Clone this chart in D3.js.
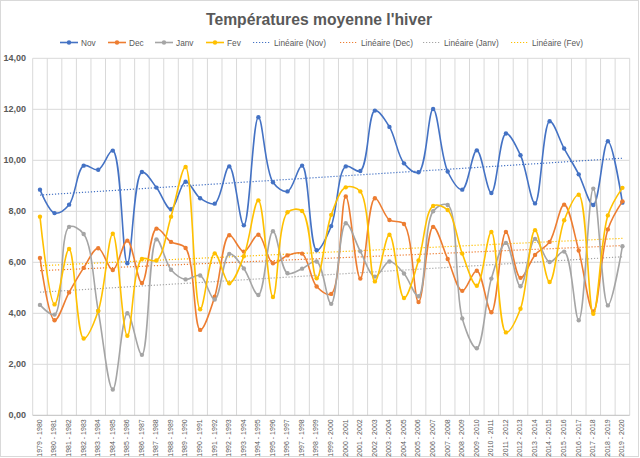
<!DOCTYPE html>
<html lang="fr">
<head>
  <meta charset="UTF-8">
  <title>Températures moyenne l'hiver</title>
  <script src="https://d3js.org/d3.v7.min.js"></script>
  <style>
    body { margin: 0; background: #fff; }
    svg { display: block; font-family: "Liberation Sans", Arial, sans-serif; }
    .grid line { stroke: #d9d9d9; stroke-width: 1; }
    .tick-y { fill: #595959; font-size: 9px; font-weight: bold; text-anchor: end; dominant-baseline: middle; }
    .tick-x { fill: #595959; font-size: 7px; text-anchor: end; dominant-baseline: middle; }
    .legend text { fill: #595959; font-size: 9.5px; dominant-baseline: middle; }
  </style>
</head>
<body>
  <svg id="chart" width="640" height="458"></svg>

  <script>
    const seasons = ["1979 - 1980", "1980 - 1981", "1981 - 1982", "1982 - 1983", "1983 - 1984",
      "1984 - 1985", "1985 - 1986", "1986 - 1987", "1987 - 1988", "1988 - 1989", "1989 - 1990",
      "1990 - 1991", "1991 - 1992", "1992 - 1993", "1993 - 1994", "1994 - 1995", "1995 - 1996",
      "1996 - 1997", "1997 - 1998", "1998 - 1999", "1999 - 2000", "2000 - 2001", "2001 - 2002",
      "2002 - 2003", "2003 - 2004", "2004 - 2005", "2005 - 2006", "2006 - 2007", "2007 - 2008",
      "2008 - 2009", "2009 - 2010", "2010 - 2011", "2011 - 2012", "2012 - 2013", "2013 - 2014",
      "2014 - 2015", "2015 - 2016", "2016 - 2017", "2017 - 2018", "2018 - 2019", "2019 - 2020"];

    const nov = [8.85, 7.93, 8.26, 9.79, 9.63, 10.38, 5.96, 9.54, 8.93, 8.08,
      9.16, 8.51, 8.30, 9.76, 7.45, 11.69, 9.14, 8.78, 9.79, 6.47,
      7.42, 9.76, 9.58, 11.95, 11.31, 9.88, 9.53, 12.01, 9.56, 8.85,
      10.39, 8.72, 11.05, 10.20, 8.31, 11.53, 10.46, 9.45, 8.25, 10.75, 8.34];
    const dec = [6.17, 3.73, 4.82, 5.78, 6.55, 5.70, 6.85, 5.19, 7.32, 6.80,
      6.56, 3.35, 4.65, 7.06, 6.42, 7.08, 5.96, 6.27, 6.34, 5.05,
      4.76, 8.58, 5.36, 8.51, 7.66, 7.50, 4.44, 7.39, 6.13, 4.88,
      5.67, 4.04, 7.19, 5.39, 6.29, 6.80, 8.26, 6.46, 4.07, 7.29, 8.39];
    const janv = [4.33, 3.95, 7.39, 7.11, 4.10, 1.01, 4.00, 2.37, 6.90, 5.71,
      5.33, 5.48, 4.54, 6.33, 5.76, 4.72, 7.22, 5.57, 5.75, 6.03,
      4.37, 7.53, 6.43, 5.44, 6.03, 5.56, 4.67, 8.00, 8.25, 3.80,
      2.63, 5.36, 6.76, 5.06, 6.92, 6.01, 6.42, 3.73, 8.89, 4.31, 6.63];
    const fev = [7.79, 4.35, 6.52, 3.01, 4.09, 7.12, 3.12, 6.13, 6.07, 7.79,
      9.74, 4.16, 6.35, 5.18, 6.24, 8.43, 4.64, 7.96, 8.01, 5.37,
      7.86, 8.94, 8.78, 5.25, 7.08, 4.60, 6.07, 8.21, 8.05, 6.34,
      5.08, 7.19, 3.25, 4.18, 7.26, 5.23, 7.65, 8.65, 3.98, 7.84, 8.92];

    const seriesNames = ["Nov", "Dec", "Janv", "Fev"];
    const seriesColors = ["#4472C4", "#ED7D31", "#A5A5A5", "#FFC000"];
    const yTicks = [0, 2, 4, 6, 8, 10, 12, 14];

    const series = [nov, dec, janv, fev].map((values, k) => ({
      name: seriesNames[k], color: seriesColors[k], values
    }));

    const svg = d3.select("#chart");
    const plotLeft = 32.7, plotRight = 629.7, plotTop = 58.3, plotBottom = 415.3;

    const x = d3.scaleBand().domain(seasons).range([plotLeft, plotRight]).padding(0);
    const cx = d => x(d) + x.bandwidth() / 2;
    const y = d3.scaleLinear().domain([0, 14]).range([plotBottom, plotTop]);

    // chart border
    svg.append("rect")
      .attr("x", 0.5).attr("y", 0.5).attr("width", 638).attr("height", 456)
      .attr("fill", "#fff").attr("stroke", "#d9d9d9");

    // title (squeezed a bit, Calibri is narrower than what we have)
    svg.append("text")
      .attr("x", 319).attr("y", 25)
      .attr("text-anchor", "middle")
      .attr("fill", "#595959")
      .attr("textLength", 226).attr("lengthAdjust", "spacingAndGlyphs")
      .style("font-size", "17px").style("font-weight", "bold")
      .text("Températures moyenne l'hiver");

    // gridlines
    const grid = svg.append("g").attr("class", "grid");
    grid.selectAll(".h").data(yTicks.filter(t => t > 0)).enter().append("line")
      .attr("x1", plotLeft).attr("x2", plotRight)
      .attr("y1", d => y(d)).attr("y2", d => y(d));
    grid.selectAll(".v").data(seasons.concat([null])).enter().append("line")
      .attr("x1", (d, i) => plotLeft + i * x.bandwidth())
      .attr("x2", (d, i) => plotLeft + i * x.bandwidth())
      .attr("y1", plotTop).attr("y2", plotBottom);
    svg.append("line")
      .attr("x1", plotLeft).attr("x2", plotRight).attr("y1", plotBottom).attr("y2", plotBottom)
      .attr("stroke", "#bfbfbf");

    // y labels
    svg.selectAll(".tick-y").data(yTicks).enter().append("text")
      .attr("class", "tick-y")
      .attr("x", 26).attr("y", d => y(d))
      .text(d => d3.format(".2f")(d).replace(".", ","));

    // x labels
    svg.selectAll(".tick-x").data(seasons).enter().append("text")
      .attr("class", "tick-x")
      .attr("transform", d => `translate(${cx(d)},${plotBottom + 4}) rotate(-90)`)
      .text(d => d);

    // trend lines (linear least squares)
    function trend(values) {
      const n = values.length;
      const xs = d3.range(1, n + 1);
      const mx = d3.mean(xs), my = d3.mean(values);
      const b = d3.sum(xs, (v, i) => (v - mx) * (values[i] - my)) / d3.sum(xs, v => (v - mx) ** 2);
      const a = my - b * mx;
      return [a + b, a + b * n];
    }
    series.forEach(s => {
      const [y0, y1] = trend(s.values);
      svg.append("line")
        .attr("x1", cx(seasons[0])).attr("x2", cx(seasons[seasons.length - 1]))
        .attr("y1", y(y0)).attr("y2", y(y1))
        .attr("stroke", s.color).attr("stroke-width", 1.2)
        .attr("stroke-dasharray", "1.2,1.8");
    });

    // smoothed series lines
    const line = d3.line()
      .x((d, i) => cx(seasons[i]))
      .y(d => y(d))
      .curve(d3.curveCatmullRom.alpha(0.5));

    series.forEach(s => {
      const g = svg.append("g");
      g.append("path")
        .attr("d", line(s.values))
        .attr("fill", "none")
        .attr("stroke", s.color)
        .attr("stroke-width", 1.6);
      g.selectAll("circle").data(s.values).enter().append("circle")
        .attr("cx", (d, i) => cx(seasons[i]))
        .attr("cy", d => y(d))
        .attr("r", 2.2)
        .attr("fill", s.color);
    });

    // legend
    const legendItems = [
      { label: "Nov", color: seriesColors[0], x: 60, dotted: false },
      { label: "Dec", color: seriesColors[1], x: 108, dotted: false },
      { label: "Janv", color: seriesColors[2], x: 155, dotted: false },
      { label: "Fev", color: seriesColors[3], x: 206, dotted: false },
      { label: "Linéaire (Nov)", color: seriesColors[0], x: 253, dotted: true },
      { label: "Linéaire (Dec)", color: seriesColors[1], x: 340, dotted: true },
      { label: "Linéaire (Janv)", color: seriesColors[2], x: 423, dotted: true },
      { label: "Linéaire (Fev)", color: seriesColors[3], x: 511, dotted: true }
    ];
    const legend = svg.append("g").attr("class", "legend");
    legendItems.forEach(it => {
      const g = legend.append("g").attr("transform", `translate(${it.x},42.5)`);
      g.append("line")
        .attr("x1", 0).attr("x2", 18)
        .attr("stroke", it.color)
        .attr("stroke-width", it.dotted ? 1.2 : 1.6)
        .attr("stroke-dasharray", it.dotted ? "1.2,1.8" : null);
      if (!it.dotted) g.append("circle").attr("cx", 9).attr("r", 2.2).attr("fill", it.color);
      const t = g.append("text").attr("x", 21).attr("y", 0.5).text(it.label);
      const w = t.node().getComputedTextLength();
      t.attr("textLength", w * 0.87).attr("lengthAdjust", "spacingAndGlyphs");
    });
  </script>
</body>
</html>
